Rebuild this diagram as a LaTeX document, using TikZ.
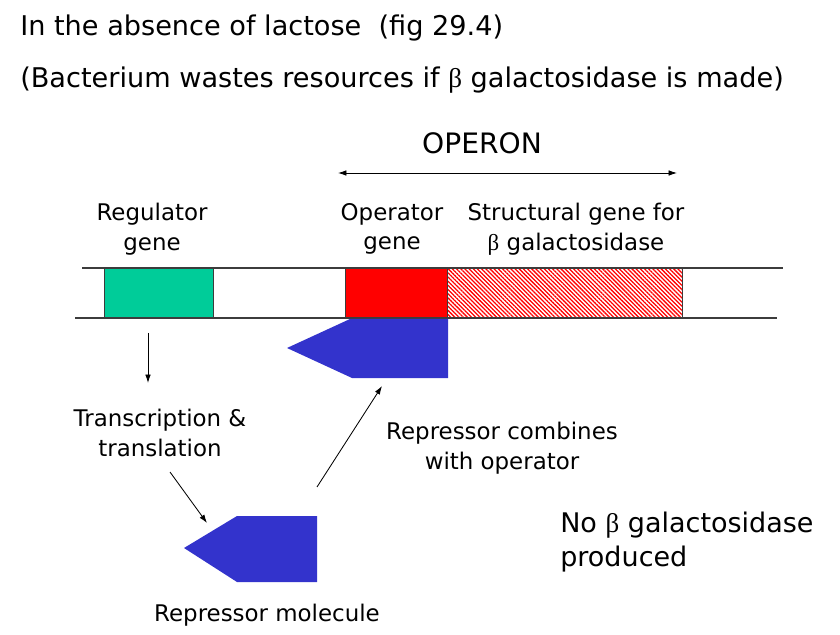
\documentclass[tikz,border=0pt]{standalone}
\usepackage{fontspec}
\setmainfont{DejaVu Sans}
\newfontfamily\greekfont{Liberation Serif}
\newcommand{\betasym}{{\greekfont β}}
\usepackage{tikz}
\usetikzlibrary{arrows.meta, positioning, patterns.meta}
\definecolor{mygreen}{RGB}{0,204,153}
\definecolor{myred}{RGB}{255,0,0}
\definecolor{myblue}{RGB}{51,51,204}
\definecolor{mygrey}{RGB}{60,60,60}
\tikzset{
  titletext/.style={anchor=west, inner sep=0pt, font=\fontsize{19.3}{22}\selectfont},
  genetext/.style={align=center, inner sep=0pt, font=\fontsize{16.3}{21}\selectfont},
  bigtext/.style={align=left, anchor=west, inner sep=0pt, font=\fontsize{19.2}{24}\selectfont},
  genebox/.style={rectangle, draw=mygrey, line width=0.7pt, anchor=north west,
    minimum height=1.25cm, inner sep=0pt},
  repressor/.style={fill=myblue, draw=none},
  arrow/.style={-{Latex[length=6pt,width=4pt]}, line width=0.6pt, color=black},
  dna/.style={line width=1pt, color=mygrey}
}

\begin{document}
\begin{tikzpicture}[x=0.025cm, y=-0.025cm]
  \useasboundingbox (0,0) rectangle (840,635);

  % Titles
  \node[titletext] (title1) at (20,28) {In the absence of lactose\ \ (fig 29.4)};
  \node[titletext] (title2) at (20,80) {(Bacterium wastes resources if \betasym\ galactosidase is made)};

  % Operon span
  \node[genetext, font=\fontsize{20}{21}\selectfont] (operon) at (482,143) {OPERON};
  \coordinate (opL) at (338,173);
  \coordinate (opR) at (677,173);
  \draw[arrow, {Latex[length=6pt,width=4pt]}-{Latex[length=6pt,width=4pt]}] (opL) -- (opR);

  % Gene labels
  \node[genetext] (reglabel) at (152,229) {Regulator\\gene};
  \node[genetext] (oplabel) at (392,229) {Operator\\gene};
  \node[genetext] (strlabel) at (576,229) {Structural gene for\\\betasym\ galactosidase};

  % DNA strand
  \coordinate (dnaTL) at (82,268);
  \coordinate (dnaTR) at (783,268);
  \coordinate (dnaBL) at (75,318);
  \coordinate (dnaBR) at (777,318);
  \node[genebox, fill=mygreen, minimum width=2.725cm] (regbox) at (104,268) {};
  \node[genebox, fill=myred, minimum width=2.55cm] (opbox) at (345,268) {};
  \node[genebox, pattern={Lines[angle=-45, distance=2.1pt, line width=0.9pt]},
    pattern color=myred, minimum width=5.875cm] (strbox) at (447,268) {};
  \draw[dna] (dnaTL) -- (dnaTR);
  \draw[dna] (dnaBL) -- (dnaBR);

  % Repressor bound to operator
  \fill[repressor] (448,319) -- (350,319) -- (287,348) -- (352,378) -- (448,378) -- cycle;

  % Regulator gene -> repressor molecule
  \coordinate (regS) at (148,333);
  \coordinate (regE) at (148,383);
  \draw[arrow] (regS) -- (regE);
  \node[genetext] (transl) at (160,433) {Transcription \&\\translation};
  \coordinate (trS) at (170,472);
  \coordinate (molE) at (207,523);
  \draw[arrow] (trS) -- (molE);

  \fill[repressor] (317,516) -- (237,516) -- (184,548) -- (237,582) -- (317,582) -- cycle;
  \node[genetext] (mollabel) at (267,615) {Repressor molecule};

  % Repressor combines with operator
  \coordinate (combS) at (317,487);
  \coordinate (combE) at (382,386);
  \draw[arrow] (combS) -- (combE);
  \node[genetext] (comblabel) at (502,448) {Repressor combines\\with operator};

  \node[bigtext] (result) at (560,542) {No \betasym\ galactosidase\\produced};
\end{tikzpicture}
\end{document}
